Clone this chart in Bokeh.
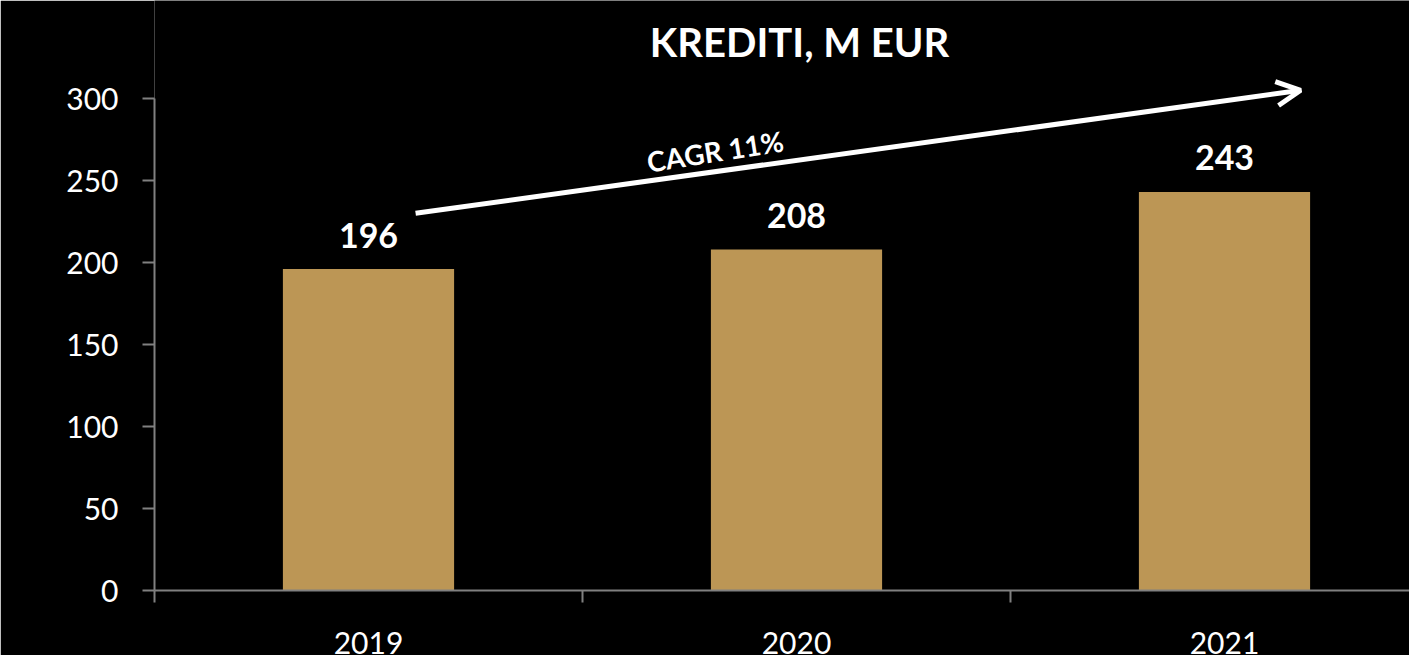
from bokeh.plotting import figure
from bokeh.models import (Range1d, FixedTicker, ColumnDataSource, Arrow, OpenHead, LinearAxis)
from bokeh.core.properties import value
from bokeh.embed import file_html
from bokeh.resources import INLINE
import math

# ---- data ----
years = ["2019", "2020", "2021"]
loans = [196, 208, 243]
y_ticks = [0, 50, 100, 150, 200, 250, 300]
title_text = "KREDITI, M EUR"
cagr_text = "CAGR 11%"

FONT = "Lato"
BAR_COLOR = "#BC9655"
AXIS_COLOR = "#808080"

xs = [i + 0.5 for i in range(len(years))]

FRAME_H = 590.0
PX_PER_UNIT = 1.64
LEFT = 154
FRAME_W = 1409 - LEFT
p = figure(width=1409, height=660, output_backend="svg", toolbar_location=None,
           x_range=Range1d(0, FRAME_W / 428), y_range=Range1d(0, FRAME_H / PX_PER_UNIT),
           x_axis_type=None, y_axis_type=None,
           min_border_left=LEFT, min_border_right=0, min_border_top=0, min_border_bottom=70)
p.background_fill_color = "black"
p.border_fill_color = "black"
p.outline_line_color = None
p.xgrid.visible = False
p.ygrid.visible = False

# y axis
yax = LinearAxis(ticker=FixedTicker(ticks=y_ticks), bounds=(0, 300))
yax.axis_line_color = AXIS_COLOR
yax.axis_line_width = 2
yax.major_tick_line_color = AXIS_COLOR
yax.major_tick_line_width = 2
yax.major_tick_out = 12
yax.major_tick_in = 0
yax.minor_tick_line_color = None
yax.major_label_text_color = "white"
yax.major_label_text_font = FONT
yax.major_label_text_font_size = "30px"
yax.major_label_standoff = 24
p.add_layout(yax, "left")

# x axis: labels at category centres, tick marks at boundaries
xax = LinearAxis(ticker=FixedTicker(ticks=xs, minor_ticks=list(range(len(years) + 1))))
xax.major_label_overrides = {x: y for x, y in zip(xs, years)}
xax.axis_line_color = AXIS_COLOR
xax.axis_line_width = 2
xax.major_tick_line_color = None
xax.major_tick_out = 0
xax.major_tick_in = 0
xax.minor_tick_line_color = AXIS_COLOR
xax.minor_tick_line_width = 2
xax.minor_tick_out = 12
xax.minor_tick_in = 0
xax.major_label_text_color = "white"
xax.major_label_text_font = FONT
xax.major_label_text_font_size = "30px"
xax.major_label_standoff = 29
p.add_layout(xax, "below")

src = ColumnDataSource(dict(x=xs, top=loans, label=[str(v) for v in loans]))
p.vbar(x="x", top="top", width=0.4, bottom=0, source=src, fill_color=BAR_COLOR, line_color=None)
p.text(x="x", y="top", text="label", source=src, text_color="white",
       text_font=value(FONT), text_font_style="bold", text_font_size="34px",
       text_align="center", text_baseline="alphabetic", y_offset=-34)

# title
p.text(x=[(799 - LEFT) / 428], y=[(FRAME_H - 41) / PX_PER_UNIT], text=[title_text],
       text_color="white", text_font=value(FONT), text_font_style="bold",
       text_font_size="40px", text_align="center", text_baseline="middle")

# CAGR arrow
p.add_layout(Arrow(x_start=0.61, y_start=230, x_end=2.678, y_end=305,
                   line_color="white", line_width=5,
                   end=OpenHead(size=24, line_color="white", line_width=5)))
p.text(x=[1.31], y=[268], text=[cagr_text], angle=math.radians(9),
       text_color="white", text_font=value(FONT), text_font_style="bold",
       text_font_size="28px", text_align="center", text_baseline="middle")

open("out.html", "w").write(file_html(p, INLINE))
